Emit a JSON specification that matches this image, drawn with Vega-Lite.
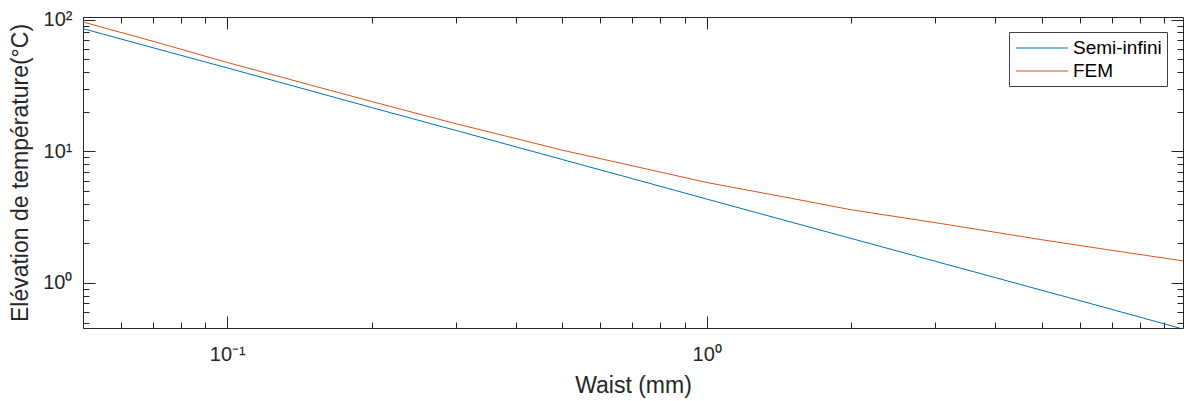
{
  "$schema": "https://vega.github.io/schema/vega-lite/v6.json",
  "autosize": "none",
  "width": 1100,
  "height": 311,
  "padding": {"left": 83, "top": 17, "right": 1, "bottom": 73},
  "background": "white",
  "config": {
    "view": {"stroke": "#262626", "strokeWidth": 1},
    "font": "Liberation Sans",
    "axis": {
      "grid": false,
      "domain": false,
      "tickColor": "#262626",
      "tickWidth": 1,
      "labelColor": "#262626",
      "labelFont": "Liberation Sans",
      "labelFontSize": 20,
      "titleColor": "#262626",
      "titleFont": "Liberation Sans",
      "titleFontSize": 23,
      "titleFontWeight": "normal"
    },
    "legend": {
      "orient": "none",
      "legendX": 926,
      "legendY": 15,
      "title": null,
      "labelFont": "Liberation Sans",
      "labelFontSize": 19,
      "labelColor": "#000000",
      "symbolType": "M-2.5,0L2.5,0",
      "symbolSize": 441,
      "symbolStrokeWidth": 1,
      "symbolOffset": 17,
      "labelOffset": 20,
      "padding": 5,
      "rowPadding": 2,
      "strokeColor": "#404040",
      "fillColor": "white"
    }
  },
  "data": {
    "values": [
      {"x": 0.05, "y": 85.5, "series": "Semi-infini"},
      {"x": 0.07, "y": 61.2, "series": "Semi-infini"},
      {"x": 0.1, "y": 43.0, "series": "Semi-infini"},
      {"x": 0.15, "y": 28.7, "series": "Semi-infini"},
      {"x": 0.2, "y": 21.5, "series": "Semi-infini"},
      {"x": 0.3, "y": 14.4, "series": "Semi-infini"},
      {"x": 0.5, "y": 8.66, "series": "Semi-infini"},
      {"x": 0.7, "y": 6.2, "series": "Semi-infini"},
      {"x": 1, "y": 4.34, "series": "Semi-infini"},
      {"x": 1.5, "y": 2.9, "series": "Semi-infini"},
      {"x": 2, "y": 2.18, "series": "Semi-infini"},
      {"x": 3, "y": 1.46, "series": "Semi-infini"},
      {"x": 5, "y": 0.88, "series": "Semi-infini"},
      {"x": 7, "y": 0.63, "series": "Semi-infini"},
      {"x": 10, "y": 0.44, "series": "Semi-infini"},
      {"x": 0.05, "y": 96, "series": "FEM"},
      {"x": 0.07, "y": 68.5, "series": "FEM"},
      {"x": 0.1, "y": 47.3, "series": "FEM"},
      {"x": 0.15, "y": 31.7, "series": "FEM"},
      {"x": 0.2, "y": 23.9, "series": "FEM"},
      {"x": 0.3, "y": 16.2, "series": "FEM"},
      {"x": 0.4, "y": 12.5, "series": "FEM"},
      {"x": 0.5, "y": 10.2, "series": "FEM"},
      {"x": 0.7, "y": 7.76, "series": "FEM"},
      {"x": 1, "y": 5.8, "series": "FEM"},
      {"x": 1.5, "y": 4.4, "series": "FEM"},
      {"x": 2, "y": 3.6, "series": "FEM"},
      {"x": 3, "y": 2.87, "series": "FEM"},
      {"x": 5, "y": 2.13, "series": "FEM"},
      {"x": 7, "y": 1.77, "series": "FEM"},
      {"x": 10, "y": 1.46, "series": "FEM"}
    ]
  },
  "layer": [
    {
      "mark": {"type": "line", "strokeWidth": 1, "clip": true},
      "encoding": {
        "x": {
          "field": "x", "type": "quantitative",
          "scale": {"type": "log", "domain": [0.05, 9.85], "nice": false},
          "axis": {
            "orient": "bottom",
            "title": "Waist (mm)",
            "titlePadding": 10,
            "values": [0.05, 0.06, 0.07, 0.08, 0.09, 0.1, 0.2, 0.3, 0.4, 0.5, 0.6, 0.7, 0.8, 0.9, 1, 2, 3, 4, 5, 6, 7, 8, 9],
            "labelExpr": "datum.value == 0.1 ? '10⁻¹' : datum.value == 1 ? '10⁰' : ''",
            "tickSize": {"condition": {"test": "datum.value == 0.1 || datum.value == 1", "value": -12}, "value": -6},
            "labelPadding": 28
          }
        },
        "y": {
          "field": "y", "type": "quantitative",
          "scale": {"type": "log", "domain": [0.455, 104.8], "nice": false},
          "axis": {
            "orient": "left",
            "title": "Elévation de température(°C)",
            "titlePadding": 10,
            "values": [0.5, 0.6, 0.7, 0.8, 0.9, 1, 2, 3, 4, 5, 6, 7, 8, 9, 10, 20, 30, 40, 50, 60, 70, 80, 90, 100],
            "labelExpr": "datum.value == 1 ? '10⁰' : datum.value == 10 ? '10¹' : datum.value == 100 ? '10²' : ''",
            "tickSize": {"condition": {"test": "datum.value == 1 || datum.value == 10 || datum.value == 100", "value": -12}, "value": -6},
            "labelPadding": 23
          }
        },
        "color": {
          "field": "series", "type": "nominal",
          "scale": {"domain": ["Semi-infini", "FEM"], "range": ["#0072BD", "#D95319"]},
          "legend": {}
        }
      }
    },
    {
      "mark": {"type": "line", "opacity": 0, "clip": true},
      "encoding": {
        "x": {
          "field": "x", "type": "quantitative",
          "scale": {"type": "log", "domain": [0.05, 9.85], "nice": false},
          "axis": {
            "orient": "top",
            "title": null,
            "labels": false,
            "values": [0.05, 0.06, 0.07, 0.08, 0.09, 0.1, 0.2, 0.3, 0.4, 0.5, 0.6, 0.7, 0.8, 0.9, 1, 2, 3, 4, 5, 6, 7, 8, 9],
            "tickSize": {"condition": {"test": "datum.value == 0.1 || datum.value == 1", "value": -12}, "value": -6}
          }
        },
        "y": {
          "field": "y", "type": "quantitative",
          "scale": {"type": "log", "domain": [0.455, 104.8], "nice": false},
          "axis": {
            "orient": "right",
            "title": null,
            "labels": false,
            "values": [0.5, 0.6, 0.7, 0.8, 0.9, 1, 2, 3, 4, 5, 6, 7, 8, 9, 10, 20, 30, 40, 50, 60, 70, 80, 90, 100],
            "tickSize": {"condition": {"test": "datum.value == 1 || datum.value == 10 || datum.value == 100", "value": -12}, "value": -6}
          }
        },
        "detail": {"field": "series", "type": "nominal"}
      }
    }
  ],
  "resolve": {"axis": {"x": "independent", "y": "independent"}}
}
